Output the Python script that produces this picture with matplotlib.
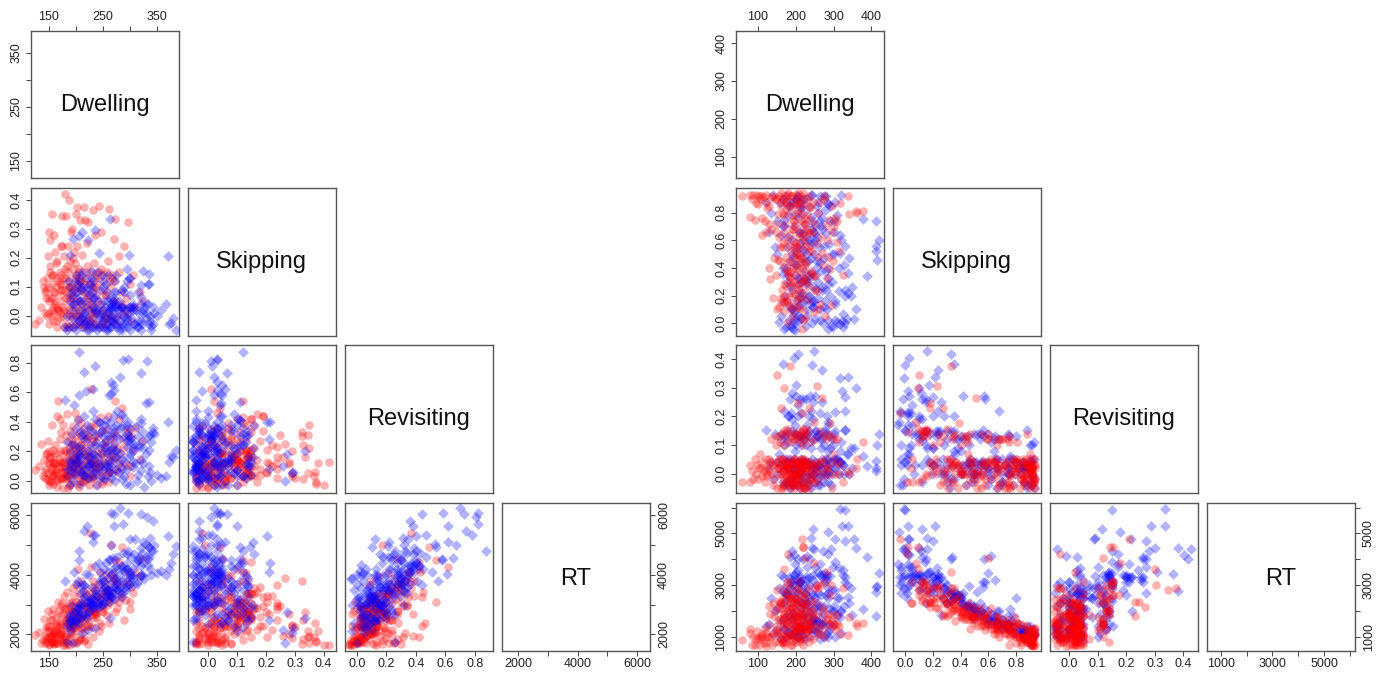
import matplotlib
matplotlib.use('Agg')
import matplotlib.pyplot as plt

plt.rcParams['font.family'] = ['Liberation Sans', 'DejaVu Sans']

VAR_NAMES = ['Dwelling', 'Skipping', 'Revisiting', 'RT']

# left matrix, red group
left_red_dwelling = [
    125,132,135,141,143,146,148,148,150,150,
    151,152,153,155,155,156,157,158,160,160,
    161,162,163,165,166,167,168,170,171,172,
    173,174,175,176,177,178,180,180,181,182,
    183,184,185,186,187,188,189,190,191,192,
    193,194,195,196,197,198,199,200,200,202,
    203,204,205,206,207,208,209,210,212,215,
    216,217,218,219,220,221,222,224,226,228,
    229,230,231,232,233,234,236,237,238,240,
    241,243,244,245,246,247,248,250,252,254,
    255,257,258,260,261,262,263,265,267,268,
    270,272,273,275,277,279,280,283,285,288,
    290,292,295,297,300,303,306,310,318,322,
    155,168,178,188,198,208,218,175,190,205,
    162,172,182,192,202,212,222,232,145,165,
    140,145,150,155,160,165,170,175,180,185,
    190,195,200,205,210,215,220,225,230,235,
    152,158,164,170,176,182,188,194,200,206,
    212,218,224,230,236,242,248,254,260,266,
    148,163,178,193,208,223,238,253,268,283,
    142,156,171,186,201,216,231,246,261,276,
    147,160,173,187,198,210,222,235,250,300]
left_red_skipping = [
    -.03,-.015,.03,.10,.08,.13,.205,.01,-.03,.06,
    .29,.26,.17,.35,.11,.02,.14,-.02,.08,.28,
    .22,.04,.10,.19,-.04,.02,.12,.15,.01,.24,
    .11,.24,.345,.05,.13,.205,.42,.09,.345,-.03,
    .17,.01,.24,.07,.40,.12,.19,.04,.29,.10,
    .30,.06,.16,-.04,.22,.03,.13,.35,.08,.375,
    .24,.10,.01,.16,.33,.05,-.03,.12,.21,.375,
    .08,.33,.15,.03,-.02,.25,.325,.11,-.02,.01,
    .15,.04,-.03,.365,.10,.18,.28,.07,.01,.14,
    .05,.38,.12,-.04,.16,.29,.02,.09,.14,-.01,
    .07,.15,-.03,.19,.01,.37,.10,-.01,.13,-.02,
    .265,.12,.335,.05,-.03,.15,.205,.08,.04,.01,
    .24,.06,.01,.325,.11,-.02,.14,.03,.08,.05,
    .00,.02,-.04,.10,.02,-.03,.07,.09,.00,.13,
    .05,.14,.06,.00,.11,.04,-.01,.03,.06,.03,
    .12,.09,.05,.14,.08,-.02,.11,.03,.16,-.04,
    .06,-.03,.14,.00,.09,-.04,.17,.02,.11,-.03,
    .15,.03,.18,.07,.00,.13,.02,.20,.05,.15,
    .02,.13,-.04,.08,.01,.15,-.03,.07,.00,.14,
    .10,.13,.02,.08,.12,.05,.10,-.02,.05,.03,
    .01,.06,-.01,.15,.00,.11,-.01,.04,.12,.00,
    .00,.01,.09,.10,.18,-.01,.06,.13,.01,.03]
left_red_revisiting = [
    .07,.10,.25,.14,.02,.19,.05,.27,.11,.00,
    .20,.16,-.01,.38,.09,.13,.04,.21,.17,.11,
    .24,.06,.19,.44,.00,.54,.15,.42,.28,.02,
    .33,.12,.055,.18,.38,.21,.13,.08,.31,.20,
    .45,.04,.16,.27,-.03,.11,.34,.19,.05,.14,
    .02,.20,.37,.25,.10,.46,.15,.22,.30,-.02,
    .08,.42,.14,.04,.24,.19,.28,.39,.11,-.01,
    .35,.01,.17,.23,.07,.31,.30,.12,.37,.62,
    .21,.05,.36,.03,.15,.27,.13,.39,.09,.18,
    .30,.12,.43,.06,.22,.03,.34,.16,.10,.26,
    .35,.04,.19,.44,.12,.06,.28,.17,.21,.08,
    .25,.54,.16,.33,.06,.42,.13,.18,.49,.28,
    .23,.11,.35,.33,.03,.30,.21,.36,.15,.27,
    .03,.10,.02,.08,.16,.00,.04,.13,.10,.20,
    .12,.06,.03,.24,.12,.09,.18,.02,.08,.01,
    .03,.18,-.03,.07,.12,-.04,.20,.01,.10,-.05,
    -.02,.09,.17,-.04,.24,.03,.14,-.03,.26,.10,
    .16,-.02,.08,.13,-.05,.02,.22,.06,.12,.33,
    .00,.28,.11,.02,.30,.09,-.02,.24,.06,.15,
    .13,.05,.06,.28,.07,.16,-.03,.13,.30,.09,
    .06,.00,.01,.03,.11,.20,.12,.19,-.01,.22,
    .01,.04,.09,.14,.04,.06,.02,.08,.00,.10]
left_red_rt = [
    1980,2080,1700,2520,1720,2100,1900,2800,1690,2300,
    1880,1950,2150,1950,2500,1750,2840,2050,1680,2000,
    2150,1700,2600,2300,1720,3100,2830,1900,2400,2950,
    2050,3050,2100,1800,2700,3300,1660,2900,1900,2500,
    3420,1850,2850,2650,1640,3050,2950,2200,2320,3100,
    2250,2750,3550,1750,3300,2400,2950,1700,3100,1760,
    3650,4200,2350,2900,2480,3050,1850,3800,2700,1790,
    3250,1840,2600,3500,2300,2950,1680,3100,5400,4280,
    3350,2250,3800,1930,2900,3600,2700,3300,2600,3150,
    3700,2130,4100,2400,3350,2300,3000,2750,3800,3450,
    4000,2650,3500,3250,3300,2400,3700,5000,4050,3150,
    3900,4500,2750,3800,2900,4450,3100,3350,4950,3700,
    2500,3150,4100,3800,2850,3600,3400,4100,3950,4550,
    1900,2000,1750,2350,2100,1900,2550,2400,2050,2700,
    2050,2150,2300,2000,2600,2450,2800,2550,1850,1950,
    1800,2250,1660,2700,2100,1700,2650,1750,2850,1680,
    1900,2200,2750,1800,3050,2100,2900,2300,3200,2750,
    2500,1800,2300,2300,1650,2450,2500,2750,2450,3400,
    2200,3350,2750,2650,3500,3050,2800,3550,3000,3400,
    2250,2400,1950,2800,2550,2900,2700,3300,3900,3250,
    1950,1700,1850,2550,2250,2950,2850,3250,3100,3700,
    1750,1750,2000,2300,2600,2200,2350,2800,2900,3100]

# left matrix, blue group
left_blue_dwelling = [
    205,287,297,332,236,215,320,282,265,268,
    232,205,262,265,270,336,330,218,197,180,
    343,337,370,385,220,300,310,345,232,270,
    264,236,212,205,195,222,190,243,298,298,
    324,336,333,320,294,300,285,228,212,248,
    183,187,192,196,200,204,208,212,216,220,
    224,228,232,236,240,244,248,252,256,260,
    262,264,266,268,270,272,274,276,278,280,
    282,284,286,288,290,292,294,296,298,300,
    302,305,308,311,314,317,320,323,326,330,
    334,338,342,350,358,372,377,380,366,340,
    190,198,206,214,222,230,238,246,254,262,
    194,202,210,218,226,234,242,250,258,266,
    185,200,215,230,245,260,275,290,305,320,
    195,205,215,225,235,245,255,265,275,285,
    295,305,315,325,190,210,230,250,270,290,
    200,220,240,260,280,300,320,340,215,245,
    255,265,275,285,295,305,315,325,335,205,
    235,225,255,275,295,315,210,250,285,265,
    190,195,200,210,220,230,240,250,260,270,
    184,193,204,214,224,234,244,254,264,274]
left_blue_skipping = [
    .12,.03,.03,.01,.015,-.03,.065,.02,.03,.05,
    .06,.05,.02,.04,.03,.11,.045,-.02,.04,-.04,
    -.03,-.02,.205,-.05,.10,.03,-.03,.01,.00,.04,
    .335,.295,.29,.275,.265,.26,.21,.215,.21,.13,
    .155,.145,.11,.105,.16,.13,.09,.155,.15,.14,
    -.05,-.04,.02,.09,-.03,.11,.05,-.04,.01,.08,
    -.03,.04,.12,-.04,.02,.09,-.02,.05,-.04,.01,
    -.04,.03,-.02,.06,-.03,.00,.14,-.04,.02,.05,
    -.02,.03,-.04,.00,.08,-.03,.02,-.04,.01,.07,
    -.01,.04,-.03,.02,-.04,.01,.04,-.03,.03,-.01,
    .04,.00,.03,.00,.02,-.03,-.025,-.01,.04,-.035,
    .07,.12,-.02,.10,.02,-.04,.06,-.03,.03,-.02,
    .04,.08,.14,-.03,.11,.03,-.04,.02,.08,.00,
    .12,.00,.05,.08,.00,.05,-.01,.00,.03,-.02,
    -.04,-.02,.03,-.05,-.03,.04,-.05,-.02,.03,-.05,
    -.02,.03,-.04,.02,.05,.09,.13,.10,.12,.10,
    -.05,-.05,-.05,-.05,-.05,-.05,-.05,-.05,.00,.01,
    -.01,.02,-.03,.03,-.01,.02,-.02,.01,-.03,.02,
    .02,.07,.11,.08,.12,.08,-.01,-.04,-.03,-.04,
    .10,.07,.14,.10,.13,.10,.15,.12,.14,.08,
    .00,-.01,.06,.00,-.02,.06,-.01,.00,.06,.04]
left_blue_revisiting = [
    .875,.82,.825,.81,.78,.74,.73,.70,.67,.65,
    .62,.58,.58,.585,.615,.535,.53,.61,.51,.55,
    .36,.31,.40,.21,.38,.35,.12,.32,.47,.44,
    .20,.06,.05,.18,.00,.10,.08,.40,.28,.30,
    .22,.10,.30,.42,.38,.26,.45,.16,.04,.34,
    .26,.14,.32,.05,.19,.41,-.02,.10,.28,.06,
    .35,.13,.03,.42,-.03,.22,.18,.38,.09,.30,
    .14,.40,.05,.25,.33,.00,.16,.47,.11,.28,
    .19,.36,.08,.43,.13,-.02,.27,.40,.16,-.03,
    .29,.09,.25,.37,.00,.23,.14,.34,-.04,.18,
    .03,.06,.33,.04,.02,.13,.17,.16,.03,.00,
    .12,.24,.17,.07,.20,.09,.26,.12,.23,.06,
    .08,.15,.31,.13,.24,.18,.07,.30,.19,.22,
    .03,.36,.44,.34,.02,.35,.21,.30,.20,.39,
    .11,.23,.04,.16,.31,.10,.27,.02,.20,.37,
    .08,.22,.30,.12,.20,.34,.11,.07,.36,.03,
    .05,.29,.16,.21,.06,.18,.07,.26,.18,.33,
    .11,.30,.07,.15,.23,.13,.04,.27,.21,.09,
    .24,.10,.41,.38,.32,.24,.16,.02,.01,.10,
    -.03,.15,.12,.22,.02,.19,.13,.25,.09,.16,
    .08,.25,.13,.32,.02,.06,.39,.01,.13,.30]
left_blue_rt = [
    4800,5700,6070,5950,5340,5470,6060,6260,5020,4580,
    5100,4500,4550,6080,5650,4950,5030,4030,4100,3800,
    5830,5250,5300,4960,5650,5200,5200,5000,5360,6050,
    2550,2200,2050,2770,1700,2150,2500,4400,4100,3700,
    5100,4950,4530,4300,4700,3950,4200,3000,2600,3900,
    1750,2600,3000,2300,2800,3800,2400,3200,3650,2700,
    4000,3100,2900,4300,3000,3700,3500,4200,3300,3900,
    3350,4500,3250,3800,4250,3200,3600,4600,3500,4000,
    3600,4300,3400,4750,3800,3500,4200,4800,3700,3900,
    4600,3650,4700,4400,3700,4600,4000,4750,3850,4600,
    4350,4200,4800,4050,4150,4200,4400,4700,4000,4000,
    2450,2750,3000,2650,3100,3000,3350,3150,3600,3100,
    2350,2900,3650,3200,3200,3150,3050,3800,3500,3450,
    2250,3700,3650,3600,2950,4100,3800,4150,4000,4900,
    2500,2850,2700,3000,3500,3200,3700,3250,3700,4300,
    3600,4200,4500,4000,2700,3400,3050,3050,4100,3550,
    2500,3300,3300,3500,3400,4000,4000,4800,3000,3800,
    3300,4000,3500,3800,4200,3900,3800,4400,4600,2600,
    3350,2800,4400,4300,4400,4500,3000,3000,3250,3300,
    2100,2500,2450,2950,2550,3200,2900,3500,3300,3600,
    2350,2650,2600,3450,2800,3000,4100,3100,3500,3900]

# right matrix, red group
right_red_dwelling = [
    58,78,80,85,88,92,95,98,100,103,
    105,108,110,112,115,118,120,122,125,128,
    130,133,135,138,140,142,145,148,150,152,
    153,155,156,158,160,162,163,165,170,168,
    170,172,174,175,176,178,180,180,182,183,
    184,185,186,188,189,190,191,192,193,195,
    196,197,198,199,200,201,202,203,204,205,
    206,207,208,209,210,211,212,213,214,216,
    217,218,219,219,220,222,223,224,225,226,
    228,230,232,234,236,238,240,242,245,248,
    250,252,255,258,260,263,266,270,272,275,
    278,280,282,285,288,290,292,295,298,300,
    305,308,310,318,325,338,340,360,362,379,
    165,175,185,195,205,215,225,235,178,188,
    182,192,202,212,222,232,170,200,210,220,
    150,160,170,180,190,200,210,220,230,240,
    155,165,175,185,195,205,215,225,235,245,
    148,158,168,178,188,198,208,218,228,238,
    120,130,140,150,160,170,180,190,200,210,
    170,180,190,200,210,220,230,240,250,260,
    175,195,215,235,255,275,295,315,200,225,
    165,185,205,225,245,265,285,160,190,220]
right_red_skipping = [
    .92,.93,.77,.90,.93,.75,.87,.93,.86,.92,
    .90,.92,.76,.64,.91,.74,.88,.66,.83,.72,
    .40,.32,.68,.92,.18,.47,.90,.66,.10,.79,
    .46,.92,.12,.55,.88,.18,.24,.90,.09,.15,
    .41,.72,.27,.88,.60,.16,.01,.44,.85,.34,
    .33,.64,.13,.52,.92,.27,.78,.40,.05,.59,
    .86,.21,.47,.70,.35,.93,.16,.55,.28,.18,
    .42,.80,.11,.62,.25,.90,.50,.37,.75,-.04,
    .30,.66,.02,.095,.47,.86,.22,.56,.60,.35,
    .44,.78,.17,.92,.27,.65,.38,.52,.88,.08,
    .34,.72,.23,.48,.80,.14,.62,.51,.42,.92,
    .05,.70,.33,.60,.75,.39,.13,.85,.45,.70,
    .76,.59,.74,.87,.35,.92,.79,.81,.80,.81,
    .58,.82,.30,.68,.86,.44,.72,.56,.38,.92,
    .20,.75,.50,.88,.31,.66,.92,.40,.83,.94,
    .90,.85,.78,.93,.68,.88,.80,.72,.90,.84,
    .62,.55,.48,.38,.30,.25,.18,.42,.52,.66,
    .35,.45,.20,.15,.10,.55,.65,.40,.30,.75,
    .93,.85,.91,.72,.94,.66,.94,.84,.58,.47,
    .28,.36,.44,.50,.56,.62,.68,.36,.24,.10,
    .88,.74,.92,.84,.58,.90,.66,.52,.12,.04,
    .80,.56,.94,.76,.34,.88,.48,.15,.22,.32]
right_red_revisiting = [
    -.03,-.03,.03,.01,-.02,.05,.00,.03,-.02,.02,
    .07,.02,-.01,.04,.01,-.03,.02,.05,.00,.03,
    .01,.04,.12,.00,.03,-.02,.04,.10,.345,.02,
    .04,.02,.13,.00,.05,.23,.14,-.02,.30,.15,
    .01,.04,-.03,.14,.02,-.01,-.03,.12,.00,.03,
    .375,.00,.15,-.02,.02,.13,.04,.00,-.03,.12,
    -.01,.03,.05,.01,.14,-.03,.13,.03,.01,.245,
    .00,.04,.15,-.02,.11,.02,-.03,.04,.13,.21,
    .02,.00,.145,.155,.14,-.03,.05,.01,.12,.04,
    .13,.02,.15,.00,.23,.04,.03,.01,-.02,.18,
    .12,.03,.305,.00,.01,.15,.04,.265,.13,-.01,
    .05,.12,.02,.14,.00,.175,.13,.04,.07,.12,
    .00,.04,.12,.03,-.03,.01,.00,.02,.05,.11,
    -.04,.02,-.02,.03,-.04,.00,-.03,.04,.02,-.04,
    .01,-.04,.00,.03,-.05,.02,.03,.00,-.05,.02,
    -.05,.03,-.04,.05,-.03,.00,.04,-.05,.03,-.02,
    .05,-.05,.04,-.05,.05,-.04,.04,.03,-.05,.03,
    .13,.11,.10,.155,.11,.14,.12,.10,.155,.11,
    -.01,.05,-.04,.02,-.05,.02,-.02,.04,-.02,.02,
    .00,.03,-.04,.04,-.01,.03,-.04,.00,.02,-.03,
    .03,-.05,.05,-.02,.04,.02,-.05,.00,-.02,.02,
    .05,.03,.03,-.05,-.03,.04,.02,.00,.00,.05]
right_red_rt = [
    860,1290,1150,680,1000,690,900,1230,950,700,
    900,1020,1000,1100,750,1300,800,1150,1000,1450,
    2200,1900,1000,700,2300,1800,800,1250,2800,1100,
    1650,800,2400,1700,900,2350,2100,800,3630,2600,
    1900,1100,2450,800,1550,2700,4220,1700,950,2100,
    2900,1300,3100,1800,850,2500,1050,1950,2300,1500,
    1000,2350,1850,1250,2450,800,2800,1600,2300,2350,
    1950,1000,3150,1450,2600,900,1750,2100,1250,4800,
    2300,1350,4480,4470,1900,950,2500,1650,4030,2250,
    2000,1200,2900,1000,1800,1500,2100,1750,900,3870,
    2350,1300,3000,1800,1100,3000,1500,2150,2000,1000,
    3100,1700,3500,1900,1500,2600,3000,1400,1850,1500,
    1310,1830,1500,1110,2900,1050,1760,1530,1400,1530,
    1700,1000,2300,1300,1000,1900,1150,1500,2000,700,
    2500,1100,1700,800,2200,1300,700,1800,900,700,
    1200,900,1500,1050,1500,1250,1400,1550,1250,1500,
    2100,1400,2150,2450,1800,2900,2150,1700,1950,1800,
    2050,2300,2900,3100,2600,2100,1450,1750,2600,1300,
    650,1000,1150,1400,1150,1750,1050,700,1250,1300,
    1900,1600,2150,1550,1900,1300,1550,2400,2900,2900,
    1400,1650,1300,800,1400,1300,1600,1400,2500,2300,
    750,1800,1350,1400,2000,1100,1700,2300,2100,2700]

# right matrix, blue group
right_blue_dwelling = [
    247,206,196,166,243,270,318,331,322,338,
    246,284,240,353,303,331,358,389,419,412,
    412,414,378,338,411,316,349,330,331,317,
    122,128,135,140,145,150,155,158,160,165,
    167,170,172,175,176,178,180,182,184,185,
    186,188,190,191,192,194,195,196,197,198,
    199,200,200,202,204,205,206,208,209,210,
    211,212,214,215,216,218,219,220,222,223,
    224,226,228,230,231,232,234,235,236,238,
    240,242,244,246,248,250,252,254,256,258,
    260,262,264,266,268,270,272,274,276,278,
    280,281,282,284,285,286,288,290,292,295,
    298,300,305,310,315,320,325,328,335,345,
    170,180,190,200,210,220,230,240,250,175,
    192,205,215,225,235,245,255,265,275,285,
    175,185,195,205,215,225,235,245,255,265,
    170,190,210,230,250,270,290,310,180,200,
    150,165,185,205,225,245,265,285,305,325,
    160,180,200,220,240,260,280,300,320,340,
    195,210,225,240,255,270,285,300,315,190,
    170,185,200,215,230,245,260,275,290,305,
    205,220,235,250,265,280,295,215,245,275]
right_blue_skipping = [
    .16,.327,.024,.355,.00,.24,-.007,.00,.017,.215,
    .12,-.043,.155,.03,.02,.20,.10,.339,.60,.56,
    .52,.46,.755,.36,.74,.64,.26,.24,.56,.51,
    .88,.66,.80,.93,.55,.74,.01,.87,.64,.90,
    .40,.75,.20,.92,.30,.55,.78,.02,.45,.12,
    .85,-.03,.60,.24,.48,.88,.08,.70,.35,-.05,
    .79,.17,.42,.92,.55,.28,.05,.66,.13,.85,
    .33,.58,.47,.04,.22,.60,.90,.15,.38,.52,
    .72,.28,-.02,.62,.10,.45,.84,.20,.33,.57,
    .77,.36,.93,.12,.50,.03,.65,.25,.41,.88,
    .18,.55,.02,.38,.70,.26,.00,.47,.16,.82,
    .24,.65,.10,.40,.87,.02,.57,.20,-.02,.30,
    -.03,.66,.14,.01,.23,.93,-.03,.42,.03,.20,
    .70,.85,.50,.90,.66,.80,.30,.93,.60,.40,
    -.04,.01,.04,.17,.35,.26,.45,.74,.12,.33,
    -.03,-.01,.06,.12,.30,.44,.60,.74,.85,.92,
    .15,.10,.22,.50,.35,.68,.85,.78,.62,.90,
    .50,.70,.88,.76,.90,.58,.44,.28,.16,.07,
    .05,.35,.42,.54,.68,.80,.92,.74,.60,.47,
    .00,.19,.32,.47,.62,.76,.86,.50,.40,.11,
    -.04,.27,.52,.83,.05,.15,.30,.56,.74,.88,
    .92,.65,.20,.70,.10,.38,.50,.86,.66,.92]
right_blue_revisiting = [
    .428,.416,.403,.382,.38,.362,.335,.152,.287,.336,
    .116,.179,.09,.089,.216,.268,.30,.028,.138,.043,
    .01,.10,.06,.07,.02,.08,.02,.217,.153,.04,
    .153,.02,.04,-.02,.14,.00,.07,.03,.12,.05,
    .01,.13,.03,-.03,.15,.04,-.04,.20,.02,.26,
    .04,.21,.01,.15,-.03,.02,.14,.05,.08,.17,
    .00,.309,.12,-.04,.03,.20,.24,.01,.13,.04,
    -.02,.26,.05,.21,.15,.02,-.03,.26,.12,.00,
    .03,.10,.26,-.01,.14,.04,.00,.20,.15,.27,
    .02,.12,.05,.19,.00,.27,.04,.15,.03,-.04,
    .14,.03,.21,.09,.00,.25,.15,.04,.15,.02,
    .14,.05,.20,.08,.01,.17,.13,.09,-.04,.12,
    .10,.05,.15,.05,.04,.11,.03,.00,.07,.089,
    -.04,.02,-.02,.03,-.05,.04,-.03,-.05,.02,.13,
    -.04,.03,.10,.04,-.02,.00,.13,.02,-.03,.05,
    .05,-.02,.00,.03,.00,.03,-.04,.00,.02,-.01,
    .10,.19,.13,.14,.15,.12,.03,.05,.11,.10,
    .04,-.03,-.05,.00,.04,.03,-.04,.00,.05,.03,
    .14,.20,.27,.12,.22,.13,.00,.14,.04,.00,
    .04,.00,-.05,.03,-.02,.05,-.03,.02,.00,.28,
    .22,.05,.14,.02,.17,.25,.03,.00,.04,.02,
    .04,.13,.03,-.03,.12,.03,.00,-.03,.02,.10]
right_blue_rt = [
    4380,4000,4160,2770,4450,3420,5950,5900,5280,5280,
    5190,5040,4840,4800,4800,4700,4440,4100,3450,2930,
    2730,2950,2090,2540,1790,1760,1830,3300,3120,2000,
    1400,1500,2500,1100,2000,1300,2900,1000,1600,850,
    2300,1300,2700,1000,3000,1800,1400,3300,2100,4100,
    1100,3100,1650,3200,1900,1050,3400,1350,2500,3800,
    1200,3500,2300,1000,1800,3100,3600,1550,3300,1150,
    2400,3100,2100,3300,2900,1700,1000,4000,2500,1900,
    1500,2900,3300,4130,3200,2200,1300,3300,2400,4000,
    1600,2700,1050,3400,2100,3700,1650,3000,2300,1200,
    3500,2000,3800,2600,1700,3300,4300,2200,3450,1500,
    3300,3200,3400,2500,1200,4200,2100,3350,4380,2800,
    3700,2000,3900,2500,3650,1150,3600,2200,3000,2900,
    1300,1200,1700,900,1400,1100,2300,1300,1700,2600,
    3000,2700,3100,2700,2500,2600,2200,1500,3100,2700,
    2700,2900,3100,2900,2300,2100,1500,1300,1200,900,
    2300,2800,3100,1800,2500,1500,1300,1800,1900,1400,
    2100,1650,1100,1300,900,1700,2200,2900,2800,3400,
    3400,2600,2700,2300,2000,1300,1100,1500,2000,2300,
    3400,3100,2700,1900,1600,1500,1000,2200,2500,4300,
    3300,2500,2000,1300,3700,3200,2700,1900,1500,1000,
    1000,1800,3000,1500,3400,2600,2000,1250,1600,1000]

left_limits = [(117, 390), (-0.069, 0.441), (-0.08, 0.92), (1460, 6420)]
right_limits = [(42, 432), (-0.089, 0.978), (-0.066, 0.449), (468, 6177)]

left_ticks = [[150, 200, 250, 300, 350], [0.0, 0.1, 0.2, 0.3, 0.4],
              [0.0, 0.2, 0.4, 0.6, 0.8], [2000, 3000, 4000, 5000, 6000]]
left_labels = [['150', '', '250', '', '350'], ['0.0', '0.1', '0.2', '0.3', '0.4'],
               ['0.0', '0.2', '0.4', '0.6', '0.8'], ['2000', '', '4000', '', '6000']]
right_ticks = [[100, 200, 300, 400], [0.0, 0.2, 0.4, 0.6, 0.8],
               [0.0, 0.1, 0.2, 0.3, 0.4], [1000, 2000, 3000, 4000, 5000, 6000]]
right_labels = [['100', '200', '300', '400'], ['0.0', '0.2', '0.4', '0.6', '0.8'],
                ['0.0', '0.1', '0.2', '0.3', '0.4'], ['1000', '', '3000', '', '5000', '']]

FIG_W, FIG_H = 1386, 674
COL_LEFT = [0, 157, 314, 471]
ROW_TOP = [31, 188, 345, 503]
BOX = 147.5


def draw_matrix(x0, red, blue, limits, ticks, labels, red_on_top=False):
    """Lower triangle scatter matrix, styled like R's pairs()."""
    for row in range(4):
        for col in range(row + 1):
            left = (x0 + COL_LEFT[col]) / FIG_W
            bottom = 1 - (ROW_TOP[row] + BOX) / FIG_H
            ax = plt.axes([left, bottom, BOX / FIG_W, BOX / FIG_H])

            if row == col:
                # RT has no descender, so va='center' sits it a bit high
                y_text = 0.485 if VAR_NAMES[row] == 'RT' else 0.5
                ax.text(0.5, y_text, VAR_NAMES[row], transform=ax.transAxes, fontsize=17,
                        ha='center', va='center', color='#111111')
            else:
                ax.scatter(red[col], red[row], s=38, c='#ff0000', alpha=0.3,
                           marker='o', linewidths=0, zorder=3 if red_on_top else 2)
                ax.scatter(blue[col], blue[row], s=30, c='#0000ff', alpha=0.3,
                           marker='D', linewidths=0, zorder=2 if red_on_top else 3)

            ax.set_xlim(limits[col])
            ax.set_ylim(limits[row])
            ax.set_xticks(ticks[col])
            ax.set_xticklabels(labels[col])
            ax.set_yticks(ticks[row])
            ax.set_yticklabels(labels[row], rotation=90, va='center')

            # tick sides follow pairs(): top only on the first row, right only on RT
            ax.tick_params(axis='x', top=row == 0, labeltop=row == 0,
                           bottom=row == 3, labelbottom=row == 3,
                           length=3.6, width=0.7, color='#444444',
                           labelsize=9, labelcolor='#222222', pad=2)
            ax.tick_params(axis='y', left=col == 0, labelleft=col == 0,
                           right=row == 3 and col == 3, labelright=row == 3 and col == 3,
                           length=3.6, width=0.7, color='#444444',
                           labelsize=9, labelcolor='#222222', pad=2.5)
            for spine in ax.spines.values():
                spine.set_color('#555555')
                spine.set_linewidth(1.0)


fig = plt.figure(figsize=(FIG_W / 100, FIG_H / 100), dpi=100)

draw_matrix(31, [left_red_dwelling, left_red_skipping, left_red_revisiting, left_red_rt],
            [left_blue_dwelling, left_blue_skipping, left_blue_revisiting, left_blue_rt],
            left_limits, left_ticks, left_labels)
draw_matrix(736, [right_red_dwelling, right_red_skipping, right_red_revisiting, right_red_rt],
            [right_blue_dwelling, right_blue_skipping, right_blue_revisiting, right_blue_rt],
            right_limits, right_ticks, right_labels, red_on_top=True)

plt.savefig('out.png', dpi=100)
